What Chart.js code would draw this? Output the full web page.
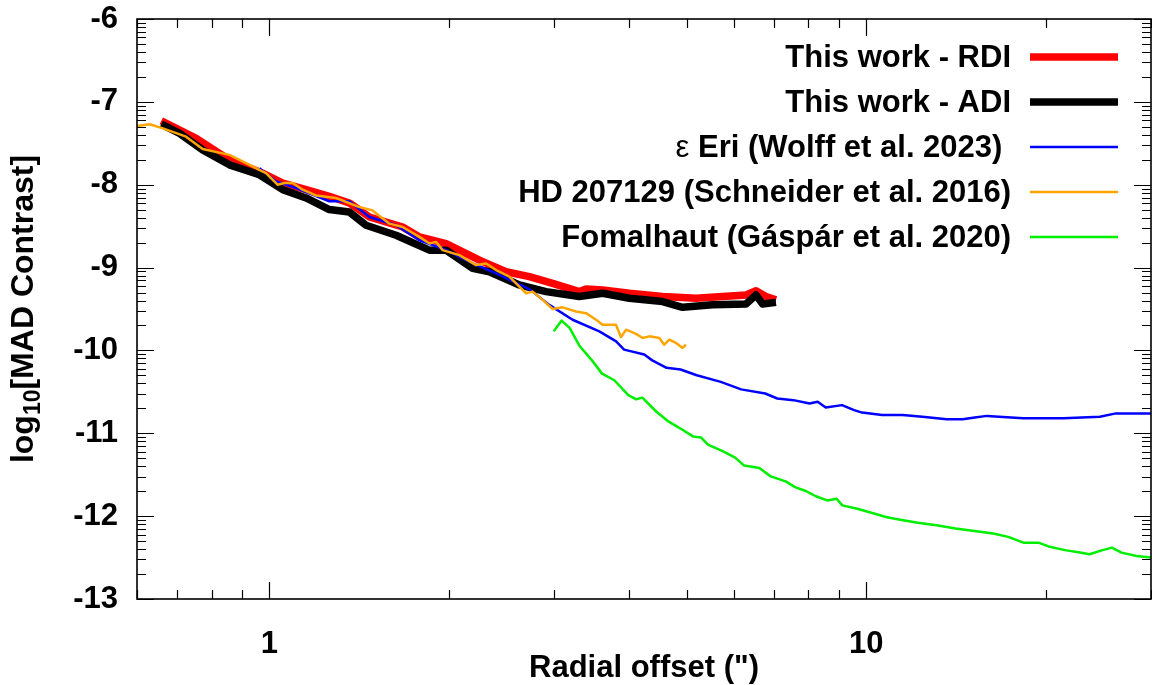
<!DOCTYPE html>
<html>
<head>
<meta charset="utf-8">
<title>MAD contrast vs radial offset</title>
<script src="https://cdn.jsdelivr.net/npm/chart.js@4.4.1/dist/chart.umd.min.js"></script>
<style>
  html, body { margin: 0; padding: 0; background: #fff; }
  canvas { display: block; }
</style>
</head>
<body>
<canvas id="contrastChart" width="1152" height="685"></canvas>
<script>
// radial offset in arcsec, contrast as log10
const rdiX = [0.659, 0.754, 0.857, 0.974, 1.053, 1.152, 1.260, 1.361, 1.471, 1.672, 1.784, 1.977, 2.248, 2.492, 2.726, 2.982, 3.305, 3.393, 3.617, 4.009, 4.558, 5.185, 5.744, 6.288, 6.535, 6.792, 7.059];
const rdiY = [-7.23, -7.44, -7.70, -7.86, -7.98, -8.06, -8.14, -8.22, -8.39, -8.51, -8.63, -8.71, -8.91, -9.05, -9.11, -9.19, -9.29, -9.26, -9.27, -9.31, -9.35, -9.37, -9.35, -9.33, -9.28, -9.35, -9.39];

const adiX = [0.659, 0.707, 0.773, 0.857, 0.962, 1.053, 1.152, 1.260, 1.361, 1.452, 1.630, 1.854, 1.977, 2.191, 2.336, 2.623, 2.907, 3.305, 3.617, 4.009, 4.558, 4.924, 5.528, 6.288, 6.535, 6.705, 7.059];
const adiY = [-7.27, -7.38, -7.58, -7.76, -7.88, -8.06, -8.16, -8.30, -8.33, -8.49, -8.61, -8.79, -8.79, -9.01, -9.05, -9.21, -9.29, -9.35, -9.31, -9.37, -9.41, -9.48, -9.45, -9.44, -9.33, -9.44, -9.42];

const epsEriX = [0.962, 1.026, 1.108, 1.260, 1.361, 1.471, 1.630, 1.784, 1.977, 2.191, 2.398, 2.726, 2.944, 3.221, 3.571, 3.810, 3.929, 4.247, 4.380, 4.628, 4.886, 5.200, 5.706, 6.171, 6.774, 7.095, 7.553, 8.035, 8.290, 8.554, 9.107, 9.543, 9.843, 10.63, 11.50, 12.42, 13.64, 14.51, 15.20, 15.93, 18.32, 21.41, 24.62, 26.21, 30.0];
const epsEriY = [-7.80, -7.96, -8.04, -8.20, -8.20, -8.39, -8.49, -8.67, -8.79, -8.95, -9.07, -9.26, -9.45, -9.63, -9.77, -9.89, -9.99, -10.05, -10.12, -10.21, -10.23, -10.30, -10.38, -10.47, -10.52, -10.58, -10.60, -10.64, -10.62, -10.69, -10.66, -10.72, -10.75, -10.78, -10.78, -10.80, -10.83, -10.83, -10.81, -10.79, -10.82, -10.82, -10.80, -10.76, -10.76];

const hd207129X = [0.600, 0.630, 0.663, 0.725, 0.773, 0.857, 0.891, 0.962, 0.987, 1.032, 1.060, 1.094, 1.137, 1.197, 1.293, 1.415, 1.489, 1.589, 1.672, 1.784, 1.854, 1.902, 1.951, 2.081, 2.219, 2.307, 2.398, 2.523, 2.623, 2.692, 2.761, 2.870, 2.982, 3.099, 3.264, 3.393, 3.526, 3.617, 3.808, 3.883, 3.959, 4.114, 4.220, 4.330, 4.501, 4.588, 4.677, 4.800, 4.924, 4.989];
const hd207129Y = [-7.29, -7.27, -7.32, -7.42, -7.57, -7.64, -7.70, -7.82, -7.86, -8.00, -7.98, -7.98, -8.06, -8.13, -8.16, -8.27, -8.31, -8.47, -8.51, -8.63, -8.71, -8.69, -8.79, -8.85, -8.97, -8.95, -9.03, -9.11, -9.23, -9.31, -9.29, -9.39, -9.50, -9.48, -9.53, -9.55, -9.63, -9.69, -9.69, -9.84, -9.75, -9.80, -9.85, -9.83, -9.85, -9.93, -9.87, -9.91, -9.97, -9.93];

const fomalhautX = [2.994, 3.088, 3.186, 3.312, 3.471, 3.608, 3.784, 3.993, 4.118, 4.216, 4.451, 4.667, 4.877, 5.132, 5.283, 5.437, 5.723, 6.022, 6.245, 6.620, 6.915, 7.328, 7.598, 7.940, 8.234, 8.601, 8.921, 9.117, 9.663, 10.09, 10.55, 10.78, 11.34, 12.20, 13.12, 14.11, 15.18, 16.32, 17.29, 18.34, 19.43, 20.30, 21.52, 22.81, 23.65, 24.89, 25.80, 26.77, 28.38, 30.0];
const fomalhautY = [-9.77, -9.64, -9.73, -9.95, -10.12, -10.28, -10.36, -10.54, -10.59, -10.57, -10.74, -10.86, -10.94, -11.04, -11.05, -11.14, -11.21, -11.29, -11.39, -11.42, -11.52, -11.58, -11.65, -11.70, -11.76, -11.81, -11.79, -11.87, -11.91, -11.95, -11.99, -12.01, -12.04, -12.08, -12.11, -12.15, -12.18, -12.21, -12.25, -12.32, -12.32, -12.37, -12.41, -12.44, -12.46, -12.41, -12.38, -12.44, -12.48, -12.50];

// axis ticks
const xTickLabels = [1, 10];
const xMinorTicks = [0.6, 0.7, 0.8, 0.9, 2, 3, 4, 5, 6, 7, 8, 9, 20, 30];
const yTickLabels = [-13, -12, -11, -10, -9, -8, -7, -6];

const FONT = "'Liberation Sans', Arial, Helvetica, sans-serif";

function pairs(xs, ys) {
    return xs.map((x, i) => ({ x: x, y: ys[i] }));
}

// closed frame with inward ticks on all four sides
const frameTicks = {
    id: "frameTicks",
    afterDatasetsDraw(chart) {
        const { ctx, chartArea: a, scales } = chart;
        const x = scales.x, y = scales.y;
        ctx.save();
        ctx.strokeStyle = "#000";
        ctx.lineWidth = 1.2;
        ctx.beginPath();
        const hTick = (px, len) => {
            px = Math.round(px) + 0.5;
            ctx.moveTo(px, a.bottom); ctx.lineTo(px, a.bottom - len);
            ctx.moveTo(px, a.top); ctx.lineTo(px, a.top + len);
        };
        const vTick = (py, len) => {
            py = Math.round(py) + 0.5;
            ctx.moveTo(a.left, py); ctx.lineTo(a.left + len, py);
            ctx.moveTo(a.right, py); ctx.lineTo(a.right - len, py);
        };
        xTickLabels.forEach(v => hTick(x.getPixelForValue(v), 17));
        xMinorTicks.forEach(v => hTick(x.getPixelForValue(v), 9));
        yTickLabels.forEach(v => vTick(y.getPixelForValue(v), 17));
        yTickLabels.slice(0, -1).forEach(v => {
            for (let m = 2; m <= 9; m++) vTick(y.getPixelForValue(v + Math.log10(m)), 9);
        });
        ctx.stroke();
        ctx.lineWidth = 1.6;
        ctx.strokeRect(a.left, a.top, a.right - a.left, a.bottom - a.top);
        ctx.restore();
    }
};

// key: right-aligned text with a line sample to its right
const keyBox = {
    id: "keyBox",
    afterDraw(chart) {
        const ctx = chart.ctx;
        const textRight = 1011, lineLeft = 1030, lineRight = 1118;
        ctx.save();
        ctx.textBaseline = "middle";
        ctx.textAlign = "right";
        chart.data.datasets.forEach((ds, i) => {
            const rowY = 57 + i * 45;
            ctx.fillStyle = "#000";
            ctx.font = "bold 31px " + FONT;
            ctx.fillText(ds.label, textRight, rowY + 1);
            if (ds.keyPrefix) {
                const w = ctx.measureText(ds.label).width;
                ctx.font = "31px " + FONT;
                ctx.fillText(ds.keyPrefix, textRight - w, rowY + 1);
            }
            ctx.strokeStyle = ds.borderColor;
            ctx.lineWidth = ds.borderWidth;
            ctx.beginPath();
            ctx.moveTo(lineLeft, rowY);
            ctx.lineTo(lineRight, rowY);
            ctx.stroke();
        });
        ctx.restore();
    }
};

// axis titles, the y one needs a subscript
const axisTitles = {
    id: "axisTitles",
    afterDraw(chart) {
        const { ctx, chartArea: a } = chart;
        ctx.save();
        ctx.fillStyle = "#000";
        ctx.textBaseline = "alphabetic";
        ctx.font = "bold 31px " + FONT;
        ctx.textAlign = "center";
        ctx.fillText("Radial offset (\")", (a.left + a.right) / 2, 677);

        const main1 = "log", sub = "10", main2 = "[MAD Contrast]";
        const big = "bold 32px " + FONT, small = "bold 23px " + FONT;
        ctx.textAlign = "left";
        ctx.font = big;
        const w1 = ctx.measureText(main1).width;
        const w3 = ctx.measureText(main2).width;
        ctx.font = small;
        const w2 = ctx.measureText(sub).width;
        const total = w1 + w2 + w3;
        ctx.translate(33, (a.top + a.bottom) / 2);
        ctx.rotate(-Math.PI / 2);
        let cx = -total / 2;
        ctx.font = big;
        ctx.fillText(main1, cx, 0);
        cx += w1;
        ctx.font = small;
        ctx.fillText(sub, cx, 7);
        cx += w2;
        ctx.font = big;
        ctx.fillText(main2, cx, 0);
        ctx.restore();
    }
};

const ctx = document.getElementById("contrastChart").getContext("2d");

new Chart(ctx, {
    type: "line",
    data: {
        datasets: [
            { label: "This work - RDI", data: pairs(rdiX, rdiY), borderColor: "#ff0000", borderWidth: 7.5, order: 5 },
            { label: "This work - ADI", data: pairs(adiX, adiY), borderColor: "#000000", borderWidth: 7.5, order: 4 },
            { label: " Eri (Wolff et al. 2023) ", keyPrefix: "\u03b5", data: pairs(epsEriX, epsEriY), borderColor: "#0000ff", borderWidth: 2.5, order: 3 },
            { label: "HD 207129 (Schneider et al. 2016)", data: pairs(hd207129X, hd207129Y), borderColor: "#ffa500", borderWidth: 2.5, order: 2 },
            { label: "Fomalhaut (Gáspár et al. 2020)", data: pairs(fomalhautX, fomalhautY), borderColor: "#00ee00", borderWidth: 2.5, order: 1 }
        ]
    },
    options: {
        responsive: false,
        animation: false,
        events: [],
        layout: { padding: { top: 19, right: 1, left: 0, bottom: 0 } },
        elements: {
            point: { radius: 0 },
            line: { tension: 0, fill: false, borderJoinStyle: "round" }
        },
        plugins: {
            legend: { display: false },
            tooltip: { enabled: false }
        },
        scales: {
            x: {
                type: "logarithmic",
                min: 0.6,
                max: 30,
                grid: { display: false, drawTicks: false },
                border: { display: false },
                afterBuildTicks: scale => { scale.ticks = xTickLabels.map(v => ({ value: v })); },
                afterFit: scale => {
                    scale.height = 86;
                    scale.paddingLeft = 0;
                    scale.paddingRight = 0;
                },
                ticks: {
                    autoSkip: false,
                    maxRotation: 0,
                    padding: 27,
                    color: "#000",
                    font: { family: FONT, size: 31, weight: "bold" },
                    callback: v => String(v)
                }
            },
            y: {
                type: "linear",
                min: -13,
                max: -6,
                grid: { display: false, drawTicks: false },
                border: { display: false },
                afterFit: scale => {
                    scale.width = 137;
                    scale.paddingTop = 0;
                    scale.paddingBottom = 0;
                },
                ticks: {
                    stepSize: 1,
                    padding: 19,
                    color: "#000",
                    font: { family: FONT, size: 31, weight: "bold" },
                    callback: v => String(v)
                }
            }
        }
    },
    plugins: [frameTicks, keyBox, axisTitles]
});
</script>
</body>
</html>
